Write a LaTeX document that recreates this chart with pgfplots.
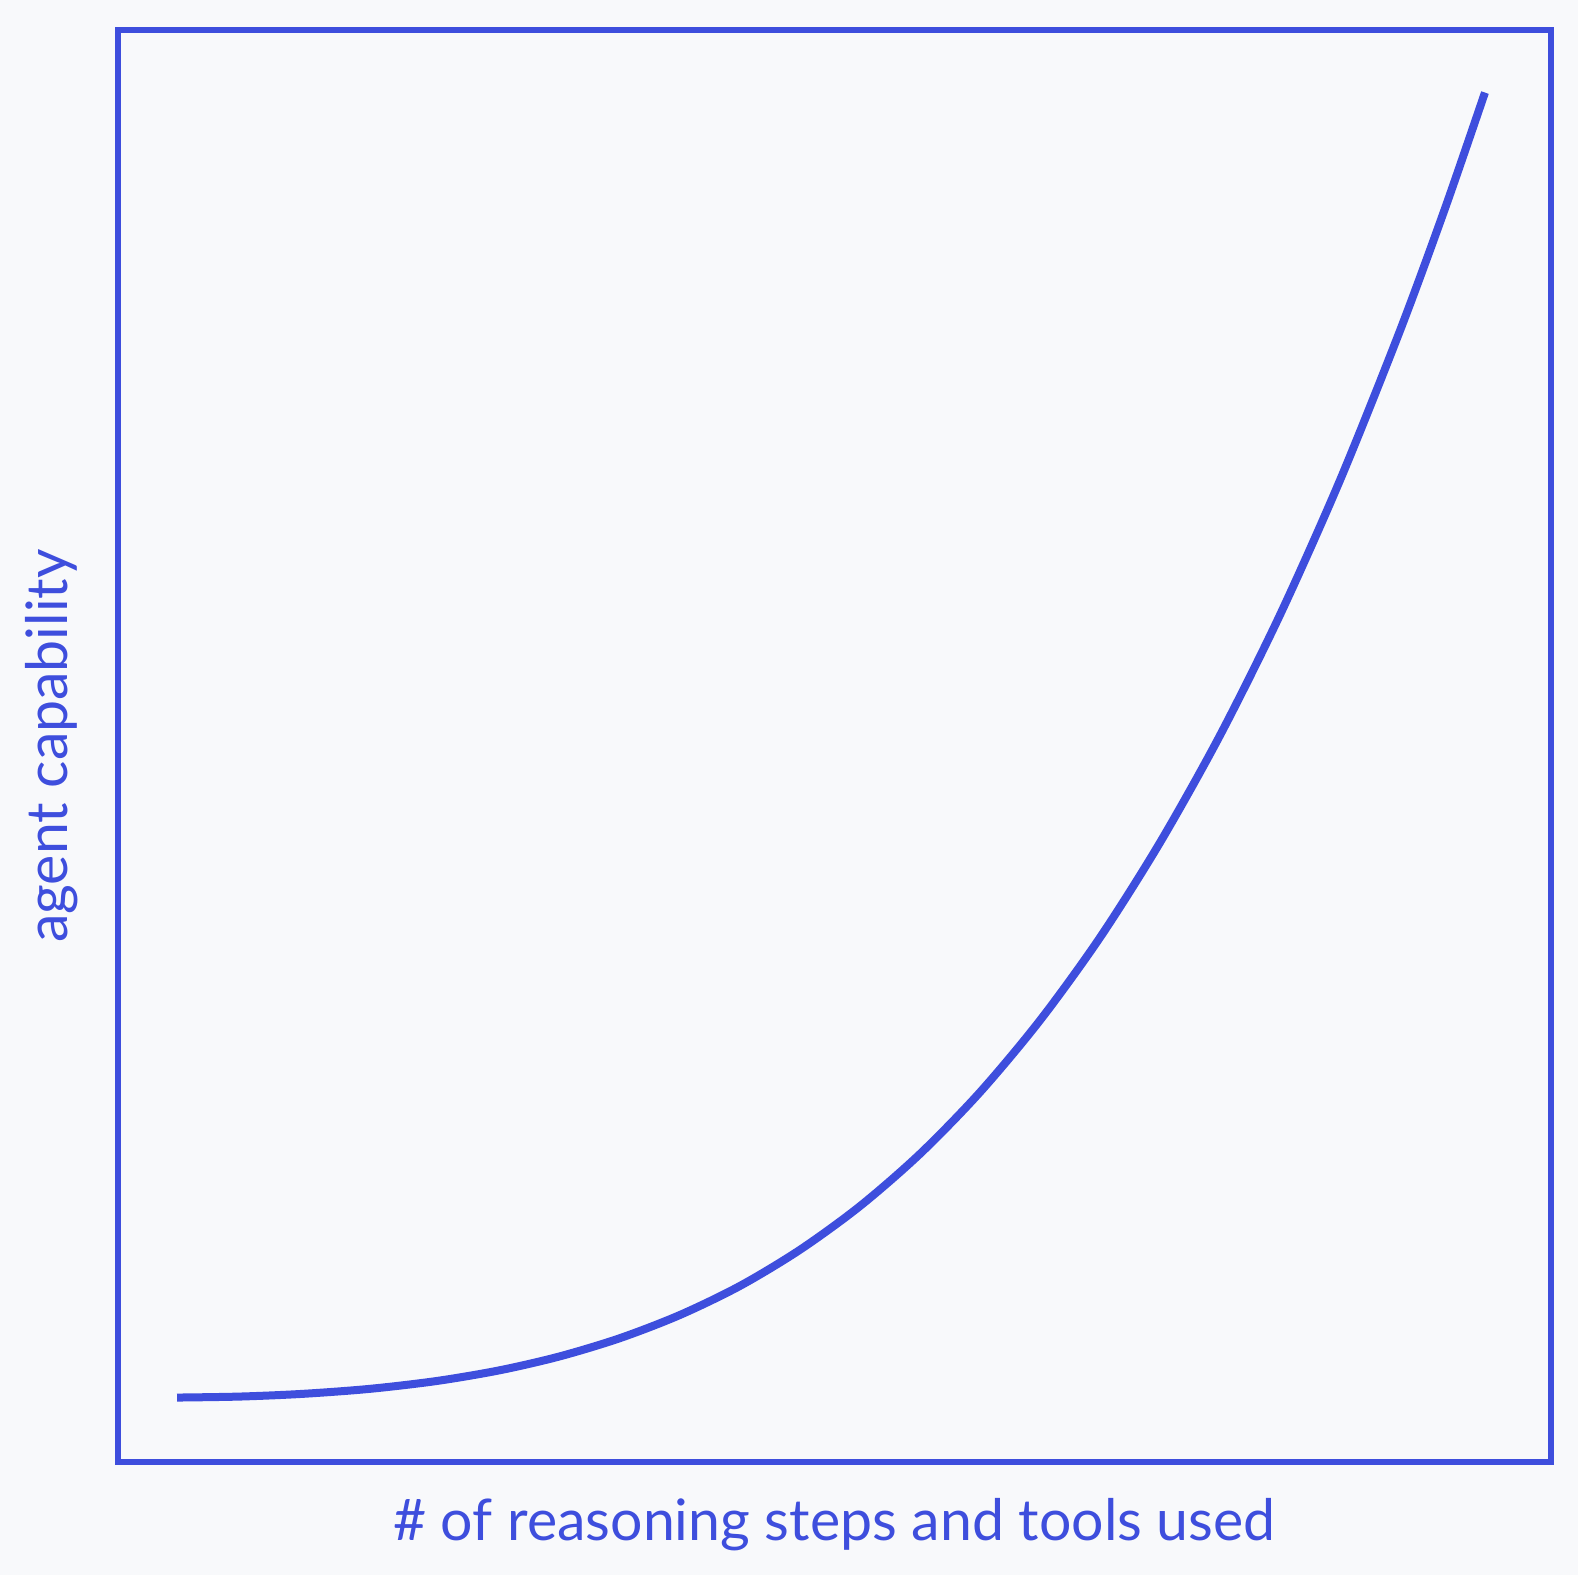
\documentclass[border=0pt]{standalone}
\usepackage{fontspec}
\setmainfont{Lato}
\usepackage{pgfplots}
\pgfplotsset{compat=1.18}
\definecolor{bg}{HTML}{F8F9FB}
\definecolor{ink}{HTML}{3E4EDD}
\begin{document}
\begin{tikzpicture}
% page background
\fill[bg] (-59pt,-56.25pt) rectangle (730pt,731pt);
\begin{axis}[
  at={(0pt,0pt)}, anchor=south west,
  width=716.5pt, height=716pt, scale only axis,
  xmin=0, xmax=100, ymin=0, ymax=100,
  axis line style={ink, line width=2.8pt},
  ticks=none,
  xlabel={\# of reasoning steps and tools used},
  ylabel={agent capability},
  label style={font=\fontsize{28.6}{34}\selectfont, text=ink},
  xlabel style={at={(axis description cs:0.5,0)}, anchor=base, yshift=-39.25pt},
  ylabel style={at={(axis description cs:0,0.5)}, anchor=base, yshift=25pt},
]
\addplot[ink, line width=4pt, smooth] coordinates {
  (4.12,4.50) (8.51,4.57) (12.91,4.76) (17.59,5.11) (22.26,5.66)
  (26.66,6.41) (30.84,7.38) (35.03,8.65) (39.22,10.27) (43.41,12.30)
  (47.59,14.82) (51.78,17.87) (55.97,21.52) (60.15,25.82) (64.34,30.84)
  (68.53,36.63) (72.71,43.25) (76.90,50.74) (81.09,59.16) (85.28,68.57)
  (89.46,79.00) (92.60,87.53) (95.39,95.63)
};
\end{axis}
\end{tikzpicture}
\end{document}
